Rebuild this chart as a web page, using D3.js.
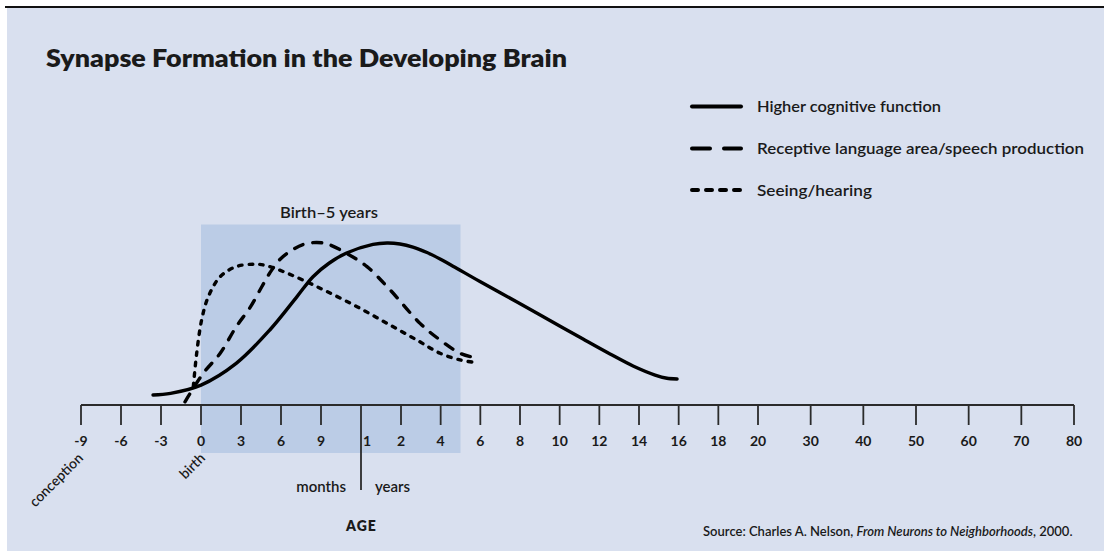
<!DOCTYPE html>
<html>
<head>
<meta charset="utf-8">
<script src="https://cdn.jsdelivr.net/npm/d3@7"></script>
<style>
  html, body { margin: 0; padding: 0; background: #ffffff; }
  svg { display: block; }
  text { font-family: Lato, "Open Sans", sans-serif; fill: #1a1a1a; }
</style>
</head>
<body>
<svg id="chart" width="1104" height="551"></svg>
<script>
// ---------- DATA ----------
const title = "Synapse Formation in the Developing Brain";
const seriesNames = ["Higher cognitive function", "Receptive language area/speech production", "Seeing/hearing"];

// ages in years relative to birth (negative = before birth); values = relative synapse formation (0-100)
const higherAges   = [-0.30, -0.19, 0.0, 0.22, 0.43, 0.60, 0.70, 0.80, 0.91, 1.30, 1.65, 1.975, 2.6, 3.31, 3.97, 4.62, 5.98, 7.85, 9.51, 11.18, 12.54, 13.7, 14.81, 15.41, 15.92];
const higherValues = [6.2, 7.2, 12.3, 25.7, 46.3, 66.9, 79.2, 87.5, 93.8, 99.1, 100, 99.4, 97.5, 94.1, 90.1, 85.7, 76.2, 63.6, 52.2, 40.7, 31.5, 24.1, 18.5, 16.5, 16.05];

const languageAges   = [-0.10, 0.014, 0.12, 0.22, 0.31, 0.38, 0.43, 0.49, 0.56, 0.64, 0.72, 0.79, 0.91, 1.15, 1.73, 2.96, 3.97, 4.98, 5.58];
const languageValues = [2, 19.6, 31.9, 48.3, 60.7, 73, 81.5, 89.5, 95.1, 99.1, 100.3, 99.4, 93.6, 85.4, 71, 50.4, 40.1, 31.9, 29.6];

const seeingAges   = [-0.048, -0.027, 0.004, 0.046, 0.12, 0.22, 0.35, 0.43, 0.54, 0.66, 0.79, 0.975, 1.65, 2.8, 3.97, 4.98, 5.58];
const seeingValues = [11.3, 31.9, 52.5, 66.9, 79.2, 85.4, 86.9, 85.4, 81.3, 76.1, 69.9, 60.7, 50.4, 40.1, 31.9, 27.8, 26.5];

// axis ticks (age in years) and their labels
const tickAges   = [-0.75, -0.5, -0.25, 0, 0.25, 0.5, 0.75, 1, 2, 4, 6, 8, 10, 12, 14, 16, 18, 20, 30, 40, 50, 60, 70, 80];
const tickLabels = ["-9", "-6", "-3", "0", "3", "6", "9", "1", "2", "4", "6", "8", "10", "12", "14", "16", "18", "20", "30", "40", "50", "60", "70", "80"];

const highlightRange = [0, 5];
const highlightLabel = "Birth\u20135 years";
const sourcePlain = "Source: Charles A. Nelson, ";
const sourceItalic = "From Neurons to Neighborhoods";
const sourceEnd = ", 2000.";

// ---------- DRAW ----------
const svg = d3.select("#chart");
const W = 1104, H = 551;

// panel background
svg.append("rect").attr("x", 7).attr("y", 8).attr("width", W - 7).attr("height", H - 8).attr("fill", "#d9e0ef");
svg.append("line").attr("x1", 5).attr("x2", W).attr("y1", 7).attr("y2", 7)
   .attr("stroke", "#111").attr("stroke-width", 2.2);

// piecewise age scale (months region, year 1-2, 2-20, 20-80)
const x = d3.scaleLinear()
  .domain([-0.75, 0, 1, 2, 20, 80])
  .range([81, 201, 361, 401, 758, 1074]);
const y = d3.scaleLinear().domain([0, 100]).range([405, 243]);

function fit(sel, w) { sel.attr("textLength", w).attr("lengthAdjust", "spacingAndGlyphs"); return sel; }

// highlight band
svg.append("rect")
  .attr("x", x(highlightRange[0])).attr("width", x(highlightRange[1]) - x(highlightRange[0]))
  .attr("y", 224.5).attr("height", 453 - 224.5)
  .attr("fill", "#bbcce6");
fit(svg.append("text").attr("x", 280).attr("y", 218).attr("font-size", 15).attr("font-weight", 600).text(highlightLabel), 98);

// title
fit(svg.append("text").attr("x", 46).attr("y", 67).attr("font-size", 24).attr("font-weight", 800).text(title), 521);

// axis
const axisY = 405;
svg.append("line").attr("x1", x(-0.75)).attr("x2", x(80)).attr("y1", axisY).attr("y2", axisY)
  .attr("stroke", "#2b2b2b").attr("stroke-width", 2);
const ticks = svg.append("g");
tickAges.forEach((a, i) => {
  ticks.append("line").attr("x1", x(a)).attr("x2", x(a)).attr("y1", axisY)
    .attr("y2", a === 1 ? 490 : 425)
    .attr("stroke", "#2b2b2b").attr("stroke-width", 1.8);
  ticks.append("text").attr("x", x(a) + (a === 1 ? 6 : 0)).attr("y", 446)
    .attr("text-anchor", "middle").attr("font-size", 14).attr("font-weight", 700)
    .attr("fill", "#222").text(tickLabels[i]);
});

// rotated labels
svg.append("text").attr("transform", `translate(${x(-0.75) + 3},${459}) rotate(-45)`)
  .attr("text-anchor", "end").attr("font-size", 14).attr("font-weight", 600).text("conception");
svg.append("text").attr("transform", `translate(${x(0) + 5},${459}) rotate(-45)`)
  .attr("text-anchor", "end").attr("font-size", 14).attr("font-weight", 600).text("birth");

svg.append("text").attr("x", 346).attr("y", 492).attr("text-anchor", "end").attr("font-size", 15).attr("font-weight", 600).text("months");
svg.append("text").attr("x", 375).attr("y", 492).attr("font-size", 15).attr("font-weight", 600).text("years");
svg.append("text").attr("x", 361.5).attr("y", 530.5).attr("text-anchor", "middle")
  .attr("font-size", 14).attr("font-weight", 800).attr("letter-spacing", 1).text("AGE");

// source
const src = svg.append("text").attr("x", 703).attr("y", 536).attr("font-size", 11.5).attr("font-weight", 600);
src.append("tspan").text(sourcePlain);
src.append("tspan").attr("font-style", "italic").text(sourceItalic);
src.append("tspan").text(sourceEnd);
{
  const len = src.node().getComputedTextLength();
  src.attr("font-size", 11.5 * 370 / len);
}

// curves
const line = d3.line().x(d => x(d[0])).y(d => y(d[1])).curve(d3.curveCatmullRom.alpha(0.5));
const series = [
  { ages: higherAges, values: higherValues, dash: null },
  { ages: languageAges, values: languageValues, dash: "9,10" },
  { ages: seeingAges, values: seeingValues, dash: "3.5,7" }
];
series.forEach(s => {
  svg.append("path")
    .datum(s.ages.map((a, i) => [a, s.values[i]]))
    .attr("d", line)
    .attr("fill", "none").attr("stroke", "#000").attr("stroke-width", 3.4)
    .attr("stroke-linecap", "round")
    .attr("stroke-dasharray", s.dash);
});

// legend
const legendDash = [null, "18,14", "6,8"];
const legendY = [106.5, 148.5, 190];
const legendW = [184, 327, 115];
seriesNames.forEach((name, i) => {
  svg.append("line").attr("x1", 692).attr("x2", 741).attr("y1", legendY[i]).attr("y2", legendY[i])
    .attr("stroke", "#000").attr("stroke-width", 4).attr("stroke-linecap", "round")
    .attr("stroke-dasharray", legendDash[i]);
  fit(svg.append("text").attr("x", 757).attr("y", legendY[i] + 5.5).attr("font-size", 16).attr("font-weight", 600).text(name), legendW[i]);
});
</script>
</body>
</html>
